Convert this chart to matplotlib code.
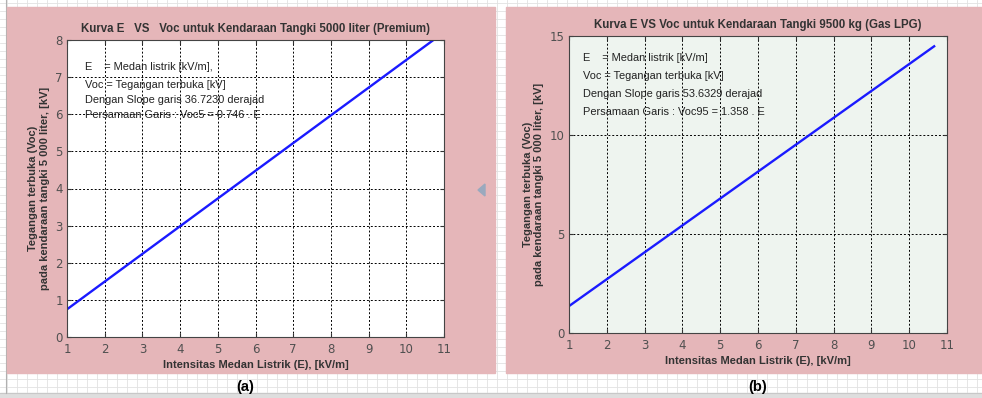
import matplotlib
matplotlib.use("Agg")
import matplotlib.pyplot as plt
from matplotlib.patches import Rectangle, Polygon
import numpy as np

plt.rcParams['font.family'] = ['Liberation Sans', 'DejaVu Sans']

# ---- data ----
E_a = [1.0, 10.72]
Voc_a = [0.746, 8.0]
E_b = [1.0, 10.66]
Voc_b = [1.358, 14.48]
xticks = [1, 2, 3, 4, 5, 6, 7, 8, 9, 10, 11]
yticks_a = [0, 1, 2, 3, 4, 5, 6, 7, 8]
yticks_b = [0, 5, 10, 15]
title_a = "Kurva E   VS   Voc untuk Kendaraan Tangki 5000 liter (Premium)"
title_b = "Kurva E VS Voc untuk Kendaraan Tangki 9500 kg (Gas LPG)"
xlabel = "Intensitas Medan Listrik (E), [kV/m]"
ylabel = "Tegangan terbuka (Voc)\npada kendaraan tangki 5 000 liter, [kV]"
notes_a = ["E    = Medan listrik [kV/m],", "Voc = Tegangan terbuka [kV]",
           "Dengan Slope garis 36.7230 derajad", "Persamaan Garis : Voc5 = 0.746 . E"]
notes_b = ["E    = Medan listrik [kV/m]", "Voc = Tegangan terbuka [kV]",
           "Dengan Slope garis 53.6329 derajad", "Persamaan Garis : Voc95 = 1.358 . E"]

W, H = 982, 398
fig = plt.figure(figsize=(W / 100, H / 100), dpi=100)
fig.patch.set_facecolor('white')

PINK = '#e5b6b9'

def fx(px):
    return px / W

def fy(py):
    return 1 - py / H

# background: grid paper
bg = fig.add_axes([0, 0, 1, 1], zorder=-10)
bg.set_xlim(0, W)
bg.set_ylim(H, 0)
bg.axis('off')
for x in np.arange(7, W, 10):
    bg.plot([x, x], [0, 393], color='#e2e2e2', lw=0.6)
for y in np.arange(3, 393, 8):
    bg.plot([0, W], [y, y], color='#e2e2e2', lw=0.6)
bg.add_patch(Rectangle((0, 393), W, 5, color='#dedede'))
bg.plot([0, W], [393, 393], color='#c8c8c8', lw=0.8)
bg.plot([6, 6], [0, 393], color='#b0b0b0', lw=0.8)
bg.add_patch(Rectangle((7, 7), 488, 366, color=PINK, zorder=2))
bg.add_patch(Rectangle((506, 7), 476, 366, color=PINK, zorder=2))
bg.add_patch(Polygon([[478, 190], [485, 184], [485, 196]], closed=True,
                     color='#9aa9be', zorder=3))

def make_panel(box, E, V, yt, title, notes, note_x, note_ys, face):
    x0, x1, y0, y1 = box
    ax = fig.add_axes([fx(x0), fy(y1), fx(x1 - x0), (y1 - y0) / H])
    ax.set_facecolor(face)
    ax.plot(E, V, color='#1a1aff', lw=1.7, clip_on=True)
    ax.set_xlim(1, 11)
    ax.set_ylim(yt[0], yt[-1])
    ax.set_xticks(xticks)
    ax.set_yticks(yt)
    ax.tick_params(direction='in', length=3, colors='#333333',
                   labelcolor='#505050', top=True, right=True)
    ax.tick_params(axis='x', pad=4)
    ax.tick_params(axis='y', pad=3)
    for lab in ax.get_xticklabels() + ax.get_yticklabels():
        lab.set_fontfamily('DejaVu Sans')
        lab.set_fontsize(8.5)
    ax.grid(True, color='black', linestyle=(0, (2, 2)), lw=0.7)
    for s in ax.spines.values():
        s.set_color('#444444')
        s.set_linewidth(0.8)
    ax.set_title(title, fontsize=8.3, fontweight='bold', color='#333333', pad=6)
    ax.set_xlabel(xlabel, fontsize=8, fontweight='bold', color='#333333', labelpad=3)
    ax.set_ylabel(ylabel, fontsize=8, fontweight='bold', color='#333333', labelpad=4)
    for t, yv in zip(notes, note_ys):
        ax.text(note_x, yv, t, fontsize=7.9, color='#222222', va='center', ha='left')
    return ax

make_panel((67, 444, 40, 337), E_a, Voc_a, yticks_a, title_a, notes_a,
           1.47, [7.27, 6.79, 6.38, 5.98], 'white')
make_panel((569, 947, 36, 333), E_b, Voc_b, yticks_b, title_b, notes_b,
           1.37, [13.89, 12.98, 12.07, 11.16], '#eef4ef')

fig.text(fx(245), fy(387), "(a)", fontsize=10.5, fontweight='bold', ha='center', va='center')
fig.text(fx(758), fy(387), "(b)", fontsize=10.5, fontweight='bold', ha='center', va='center')

fig.savefig('out.png', dpi=100, facecolor=fig.get_facecolor())
